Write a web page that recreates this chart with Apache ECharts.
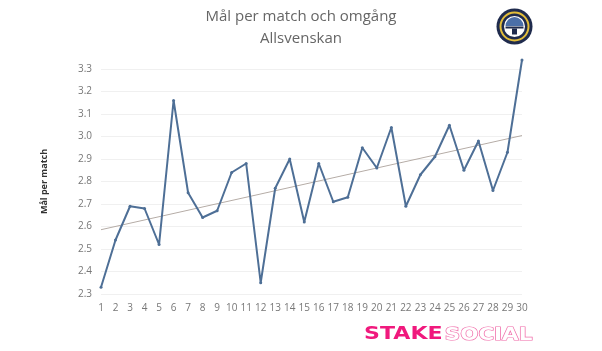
<!DOCTYPE html>
<html>
<head>
<meta charset="utf-8">
<script src="https://cdn.jsdelivr.net/npm/echarts@6/dist/echarts.min.js"></script>
<style>
  html, body { margin: 0; padding: 0; background: #fff; }
  #chart { width: 602px; height: 351px; }
</style>
</head>
<body>
<div id="chart"></div>
<script>
// omgång 1..30
var rounds = ['1','2','3','4','5','6','7','8','9','10','11','12','13','14','15',
  '16','17','18','19','20','21','22','23','24','25','26','27','28','29','30'];
// mål per match
var goals = [2.33, 2.54, 2.69, 2.68, 2.52, 3.16, 2.75, 2.64, 2.67, 2.84,
  2.88, 2.35, 2.77, 2.90, 2.62, 2.88, 2.71, 2.73, 2.95, 2.86,
  3.04, 2.69, 2.83, 2.91, 3.05, 2.85, 2.98, 2.76, 2.93, 3.34];
var yTicks = [2.3, 3.3, 0.1];

// linjär trend (minsta kvadrat) från datan
var n = goals.length, sx = 0, sy = 0, sxy = 0, sxx = 0;
for (var i = 0; i < n; i++) {
  sx += i; sy += goals[i]; sxy += i * goals[i]; sxx += i * i;
}
var k = (n * sxy - sx * sy) / (n * sxx - sx * sx);
var m = (sy - k * sx) / n;
var trend = [[rounds[0], +(m).toFixed(4)], [rounds[n - 1], +(m + k * (n - 1)).toFixed(4)]];

var chart = echarts.init(document.getElementById('chart'));
var option = {
  animation: false,
  title: {
    text: 'Mål per match och omgång\nAllsvenskan',
    left: 'center',
    top: 1,
    textStyle: { fontFamily: 'Open Sans', fontSize: 15, fontWeight: 'normal', color: '#666', lineHeight: 22 }
  },
  grid: { left: 101, right: 80, top: 69, bottom: 57 },
  xAxis: {
    type: 'category',
    data: rounds,
    boundaryGap: false,
    axisLine: { show: false },
    axisTick: { show: false },
    axisLabel: { interval: 0, color: '#777', fontSize: 10, fontFamily: 'Open Sans', margin: 9 }
  },
  yAxis: {
    type: 'value',
    min: yTicks[0],
    max: yTicks[1],
    interval: yTicks[2],
    name: 'Mål per match',
    nameLocation: 'middle',
    nameGap: 52,
    nameTextStyle: { fontSize: 9, fontWeight: 'bold', color: '#333', fontFamily: 'Open Sans' },
    axisLine: { show: false },
    axisTick: { show: false },
    axisLabel: {
      color: '#777', fontSize: 10, fontFamily: 'Open Sans', margin: 9,
      formatter: function (v) { return v.toFixed(1); }
    },
    splitLine: { lineStyle: { color: '#f0f0f0', width: 1 } }
  },
  series: [{
    type: 'line',
    data: trend,
    symbol: 'none',
    lineStyle: { color: '#b5aca6', width: 1 },
    z: 1
  }, {
    type: 'line',
    data: goals,
    clip: false,
    symbol: 'circle',
    symbolSize: 3,
    itemStyle: { color: '#4e6f96' },
    lineStyle: { color: '#4e6f96', width: 2 },
    z: 2
  }],
  graphic: [
    { type: 'circle', shape: { cx: 514.5, cy: 26.5, r: 18 }, style: { fill: '#1f2b4d' } },
    { type: 'circle', shape: { cx: 514.5, cy: 26.5, r: 14 }, style: { fill: 'none', stroke: '#e2bd3a', lineWidth: 2 } },
    { type: 'circle', shape: { cx: 514.5, cy: 26.5, r: 10.5 }, style: { fill: '#ffffff' } },
    { type: 'sector', shape: { cx: 514.5, cy: 26, r0: 0, r: 9, startAngle: Math.PI, endAngle: Math.PI * 2 }, style: { fill: '#4b6fa8' } },
    { type: 'rect', shape: { x: 505.5, y: 26.5, width: 18, height: 2 }, style: { fill: '#1f2b4d' } },
    { type: 'rect', shape: { x: 512, y: 28.5, width: 5, height: 6 }, style: { fill: '#1f2b4d' } },
    {
      type: 'text', left: 364, top: 326, scaleX: 1.3,
      style: { text: 'STAKE', fontFamily: 'DejaVu Sans', fontWeight: 'bold', fontSize: 17, fill: '#f0197d' }
    },
    {
      type: 'text', left: 444, top: 326, scaleX: 1.26,
      style: { text: 'SOCIAL', fontFamily: 'DejaVu Sans', fontWeight: 'bold', fontSize: 17, fill: '#ffffff', stroke: '#f06aa8', lineWidth: 1.2 }
    }
  ]
};
chart.setOption(option);
</script>
</body>
</html>
